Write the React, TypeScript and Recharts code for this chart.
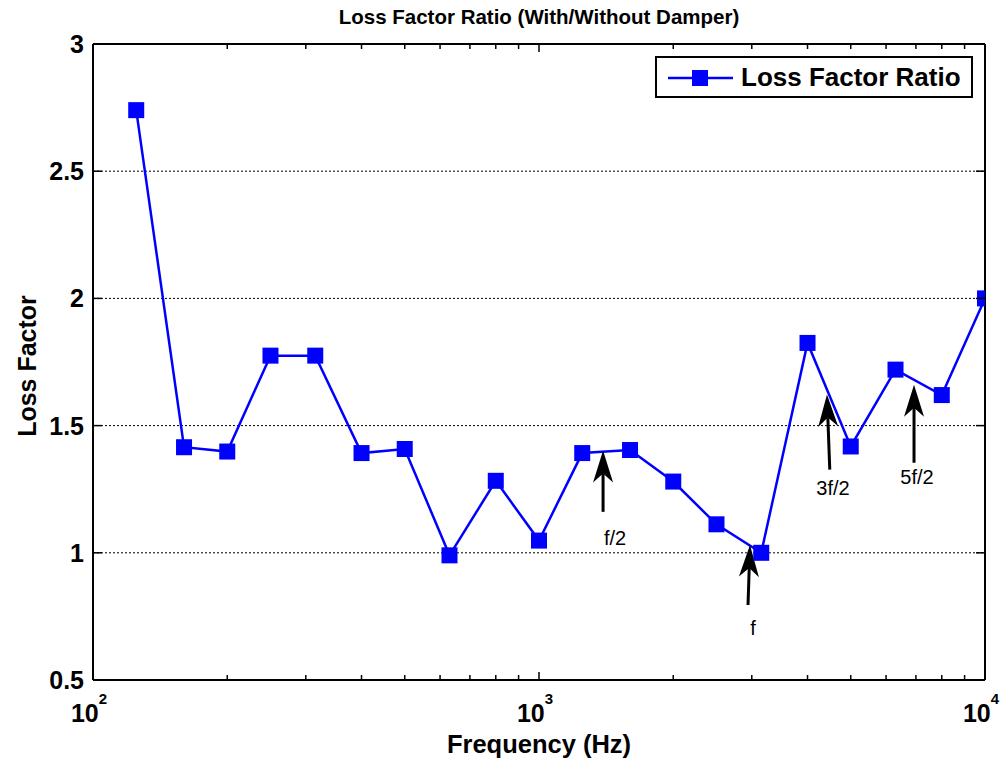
import React from 'react';
import {
  LineChart,
  Line,
  XAxis,
  YAxis,
  CartesianGrid,
  Legend,
  ReferenceLine,
  ReferenceDot,
} from 'recharts';

const frequencies = [
  125, 160, 200, 250, 315, 400, 500, 630, 800, 1000, 1250, 1600, 2000, 2500,
  3150, 4000, 5000, 6300, 8000, 10000,
];
const lossFactorRatio = [
  2.74, 1.415, 1.398, 1.775, 1.775, 1.392, 1.408, 0.99, 1.283, 1.048, 1.392,
  1.404, 1.28, 1.112, 1.0, 1.825, 1.418, 1.72, 1.62, 2.0,
];

const xTicks = [
  100, 200, 300, 400, 500, 600, 700, 800, 900, 1000, 2000, 3000, 4000, 5000,
  6000, 7000, 8000, 9000, 10000,
];
const yTicks = [0.5, 1, 1.5, 2, 2.5, 3];

// arrows: tail -> tip, plus where the text sits (all in data units)
const annotations = [
  { label: 'f/2', tail: [1392, 1.161], tip: [1392, 1.402], text: [1481, 1.059] },
  { label: 'f', tail: [2942, 0.795], tip: [2972, 1.031], text: [3018, 0.705] },
  { label: '3f/2', tail: [4487, 1.327], tip: [4423, 1.622], text: [4563, 1.256] },
  { label: '5f/2', tail: [6932, 1.354], tip: [6932, 1.661], text: [7039, 1.299] },
];

const data = frequencies.map((f, i) => ({ freq: f, ratio: lossFactorRatio[i] }));

const FONT = '"Liberation Sans", Arial, Helvetica, sans-serif';
const BLUE = '#0000ff';

const isDecade = (v: number) => v === 100 || v === 1000 || v === 10000;

const BottomTick = (props: any) => {
  const { x, y, payload } = props;
  const major = isDecade(payload.value);
  return (
    <g>
      <line x1={x} y1={y} x2={x} y2={y - (major ? 8 : 5)} stroke="#000" strokeWidth={1.5} />
      {major && (
        <text x={x - 4} y={y + 42} textAnchor="middle" fontFamily={FONT} fontWeight="bold" fontSize={25} fill="#000">
          10
          <tspan dy={-18} fontSize={15}>
            {Math.round(Math.log10(payload.value))}
          </tspan>
        </text>
      )}
    </g>
  );
};

const TopTick = (props: any) => {
  const { x, y, payload } = props;
  const major = isDecade(payload.value);
  return <line x1={x} y1={y} x2={x} y2={y + (major ? 8 : 5)} stroke="#000" strokeWidth={1.5} />;
};

const LeftTick = (props: any) => {
  const { x, y, payload } = props;
  return (
    <g>
      <line x1={x} y1={y} x2={x + 9} y2={y} stroke="#000" strokeWidth={1.5} />
      <text x={x - 9} y={y} dy="0.36em" textAnchor="end" fontFamily={FONT} fontWeight="bold" fontSize={25} fill="#000">
        {payload.value}
      </text>
    </g>
  );
};

const RightTick = (props: any) => {
  const { x, y } = props;
  return <line x1={x} y1={y} x2={x - 9} y2={y} stroke="#000" strokeWidth={1.5} />;
};

const SquareDot = (props: any) => {
  const { cx, cy, index } = props;
  return <rect key={index} x={cx - 8} y={cy - 8} width={16} height={16} fill={BLUE} />;
};

const Arrow = (props: any) => {
  const { x1, y1, x2, y2 } = props;
  const dx = x2 - x1;
  const dy = y2 - y1;
  const len = Math.sqrt(dx * dx + dy * dy) || 1;
  const ux = dx / len;
  const uy = dy / len;
  const px = -uy;
  const py = ux;
  const head = 32;
  const half = 10;
  const bx = x2 - ux * head;
  const by = y2 - uy * head;
  const nx = x2 - ux * head * 0.72;
  const ny = y2 - uy * head * 0.72;
  const pts = [
    `${x2},${y2}`,
    `${bx + px * half},${by + py * half}`,
    `${nx},${ny}`,
    `${bx - px * half},${by - py * half}`,
  ].join(' ');
  return (
    <g>
      <line x1={x1} y1={y1} x2={nx} y2={ny} stroke="#000" strokeWidth={3} />
      <polygon points={pts} fill="#000" />
    </g>
  );
};

const LegendBox = () => (
  <div
    style={{
      width: 318,
      height: 42,
      boxSizing: 'border-box',
      border: '2px solid #000',
      background: '#fff',
      position: 'relative',
      fontFamily: FONT,
    }}
  >
    <svg width={80} height={38} style={{ position: 'absolute', left: 0, top: 0 }}>
      <line x1={11} y1={20} x2={76} y2={20} stroke={BLUE} strokeWidth={2.5} />
      <rect x={35} y={12} width={16} height={16} fill={BLUE} />
    </svg>
    <span
      style={{
        position: 'absolute',
        left: 84,
        top: 4,
        fontSize: 26,
        fontWeight: 'bold',
        color: '#000',
        whiteSpace: 'nowrap',
      }}
    >
      Loss Factor Ratio
    </span>
  </div>
);

export default function App() {
  return (
    <div style={{ position: 'absolute', left: 0, top: 0, width: 1005, height: 761, background: '#fff', fontFamily: FONT }}>
      <div
        style={{
          position: 'absolute',
          left: 539,
          top: 17,
          transform: 'translate(-50%, -50%)',
          fontSize: 20.5,
          fontWeight: 'bold',
          whiteSpace: 'nowrap',
        }}
      >
        Loss Factor Ratio (With/Without Damper)
      </div>
      <div
        style={{
          position: 'absolute',
          left: 539,
          top: 744,
          transform: 'translate(-50%, -50%)',
          fontSize: 25.5,
          fontWeight: 'bold',
          whiteSpace: 'nowrap',
        }}
      >
        Frequency (Hz)
      </div>
      <div
        style={{
          position: 'absolute',
          left: 27,
          top: 366,
          transform: 'translate(-50%, -50%) rotate(-90deg)',
          fontSize: 25,
          fontWeight: 'bold',
          whiteSpace: 'nowrap',
        }}
      >
        Loss Factor
      </div>
      <LineChart width={1005} height={761} data={data} margin={{ top: 4, right: 0, bottom: 0, left: 0 }}>
        <CartesianGrid
          xAxisId="bottom"
          yAxisId="left"
          vertical={false}
          stroke="#000"
          strokeDasharray="2 2"
          strokeWidth={1}
        />
        <XAxis
          xAxisId="bottom"
          dataKey="freq"
          type="number"
          scale="log"
          domain={[100, 10000]}
          ticks={xTicks}
          interval={0}
          allowDataOverflow
          height={81}
          tickSize={0}
          tickMargin={0}
          tickLine={false}
          tick={<BottomTick />}
          axisLine={{ stroke: '#000', strokeWidth: 2 }}
        />
        <XAxis
          xAxisId="top"
          orientation="top"
          dataKey="freq"
          type="number"
          scale="log"
          domain={[100, 10000]}
          ticks={xTicks}
          interval={0}
          allowDataOverflow
          height={40}
          tickSize={0}
          tickMargin={0}
          tickLine={false}
          tick={<TopTick />}
          axisLine={{ stroke: '#000', strokeWidth: 2 }}
        />
        <YAxis
          yAxisId="left"
          type="number"
          domain={[0.5, 3]}
          ticks={yTicks}
          interval={0}
          allowDataOverflow
          width={93}
          tickSize={0}
          tickMargin={0}
          tickLine={false}
          tick={<LeftTick />}
          axisLine={{ stroke: '#000', strokeWidth: 2 }}
        />
        <YAxis
          yAxisId="right"
          orientation="right"
          type="number"
          domain={[0.5, 3]}
          ticks={yTicks}
          interval={0}
          allowDataOverflow
          width={20}
          tickSize={0}
          tickMargin={0}
          tickLine={false}
          tick={<RightTick />}
          axisLine={{ stroke: '#000', strokeWidth: 2 }}
        />
        <Legend
          layout="vertical"
          align="center"
          verticalAlign="middle"
          wrapperStyle={{ top: 56, left: 655, width: 318 }}
          content={() => <LegendBox />}
        />
        <Line
          xAxisId="bottom"
          yAxisId="left"
          dataKey="ratio"
          name="Loss Factor Ratio"
          stroke={BLUE}
          strokeWidth={2.5}
          dot={SquareDot}
          activeDot={false}
          isAnimationActive={false}
        />
        {annotations.map((a) => (
          <ReferenceLine
            key={a.label}
            xAxisId="bottom"
            yAxisId="left"
            segment={[
              { x: a.tail[0], y: a.tail[1] },
              { x: a.tip[0], y: a.tip[1] },
            ]}
            shape={(p: any) => <Arrow {...p} />}
          />
        ))}
        {annotations.map((a) => (
          <ReferenceDot
            key={'t' + a.label}
            xAxisId="bottom"
            yAxisId="left"
            x={a.text[0]}
            y={a.text[1]}
            r={0}
            shape={(p: any) => (
              <text x={p.cx} y={p.cy} dy="0.35em" textAnchor="middle" fontFamily={FONT} fontSize={20} fill="#000">
                {a.label}
              </text>
            )}
          />
        ))}
      </LineChart>
    </div>
  );
}
